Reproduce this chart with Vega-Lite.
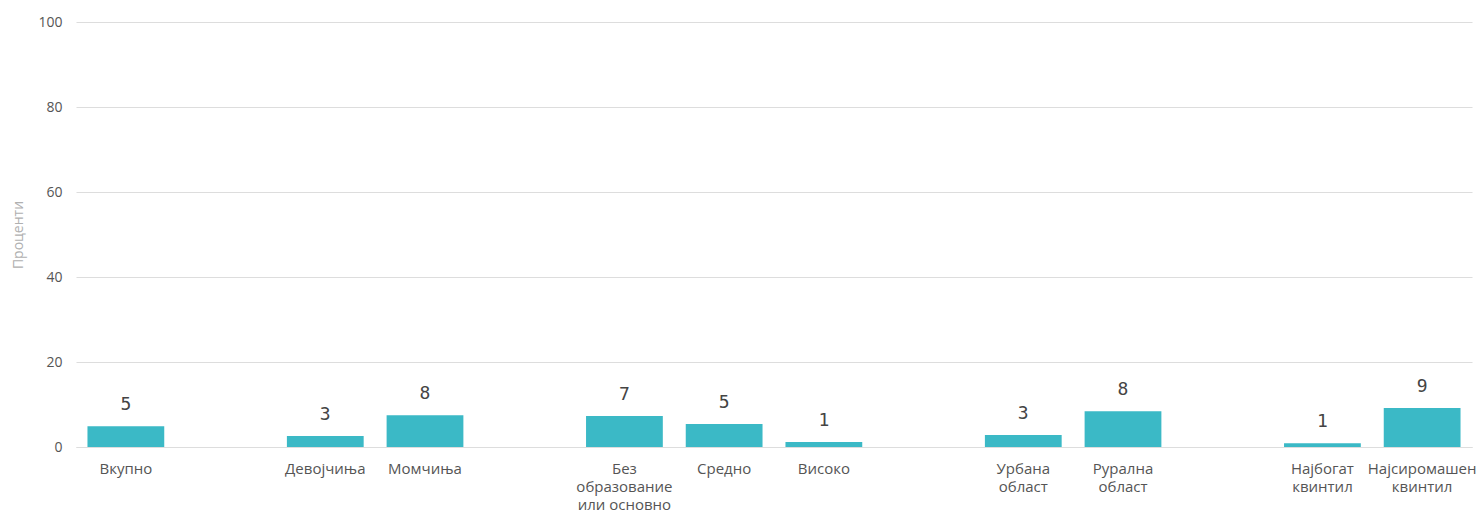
{
  "$schema": "https://vega.github.io/schema/vega-lite/v6.json",
  "autosize": {"type": "none"},
  "padding": {"left": 76, "top": 22, "right": 12, "bottom": 71},
  "width": 1396,
  "height": 425,
  "background": "white",
  "config": {"view": {"stroke": null}, "font": "Open Sans"},
  "data": {"values": [
    {"cat": "Вкупно", "v": 4.9},
    {"cat": "Девојчиња", "v": 2.6},
    {"cat": "Момчиња", "v": 7.5},
    {"cat": "Без|образование|или основно", "v": 7.3},
    {"cat": "Средно", "v": 5.4},
    {"cat": "Високо", "v": 1.2},
    {"cat": "Урбана|област", "v": 2.8},
    {"cat": "Рурална|област", "v": 8.4},
    {"cat": "Најбогат|квинтил", "v": 0.9},
    {"cat": "Најсиромашен|квинтил", "v": 9.2}
  ]},
  "encoding": {
    "x": {"field": "cat", "type": "nominal",
      "scale": {"domain": ["Вкупно", "_1", "Девојчиња", "Момчиња", "_2", "Без|образование|или основно", "Средно", "Високо", "_3", "Урбана|област", "Рурална|област", "_4", "Најбогат|квинтил", "Најсиромашен|квинтил"],
        "paddingInner": 0.23, "paddingOuter": 0.115},
      "axis": {"title": null, "labelAngle": 0, "ticks": false, "domain": true, "domainColor": "#dddddd",
        "labelExpr": "indexof(datum.label,'_')==0 ? '' : split(datum.label,'|')",
        "labelFontSize": 15, "labelColor": "#555555", "labelPadding": 14, "labelLineHeight": 18, "labelBaseline": "top"}},
    "y": {"field": "v", "type": "quantitative",
      "scale": {"domain": [0, 100]},
      "axis": {"title": "Проценти", "titleColor": "#b0b0b0", "titleFontSize": 14, "titleFontWeight": "normal", "titlePadding": 12,
        "values": [0, 20, 40, 60, 80, 100], "ticks": false, "domain": false,
        "gridColor": "#dddddd", "labelFontSize": 14, "labelColor": "#555555", "labelPadding": 14}}
  },
  "layer": [
    {"mark": {"type": "bar", "color": "#3bb9c6"}},
    {"mark": {"type": "text", "baseline": "bottom", "dy": -12, "fontSize": 18, "font": "DejaVu Sans Mono", "color": "#444444"},
      "encoding": {"text": {"field": "v", "type": "quantitative", "format": ".0f"}}}
  ]
}
